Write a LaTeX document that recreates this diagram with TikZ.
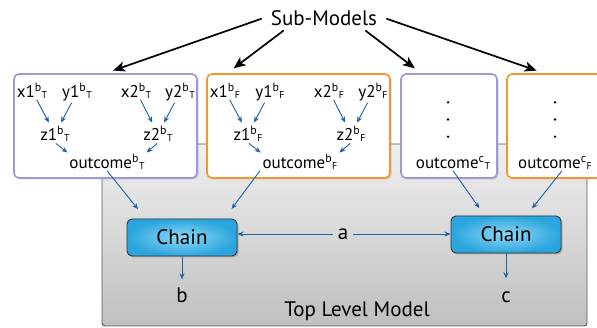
\documentclass[tikz,border=0pt]{standalone}
\usepackage{fontspec}
\setmainfont{PT Sans}
\usetikzlibrary{arrows.meta,shadows,calc}
\definecolor{lav}{HTML}{9A9AD6}
\definecolor{org}{HTML}{F5962A}
\definecolor{arrblue}{HTML}{1C62A6}
\definecolor{chainout}{HTML}{2AA5DE}
\definecolor{chainin}{HTML}{8FD8F6}
\newcommand\bt[2]{\textsuperscript{#1}\raisebox{-0.5pt}{\fontsize{10}{10}\selectfont #2}}
\begin{document}
\begin{tikzpicture}[x=1pt,y=-1pt,
  lbl/.style={font=\fontsize{17}{17}\selectfont, inner sep=1pt, anchor=base},
  big/.style={font=\fontsize{21}{21}\selectfont, inner sep=0pt},
  subbox/.style={draw, line width=1.6pt, fill=white, rounded corners=5pt, inner sep=0pt,
    drop shadow={opacity=0.3,shadow xshift=1.5pt,shadow yshift=-1.5pt}},
  chainbox/.style={draw=black!80, line width=0.9pt, rounded corners=5pt, inner color=chainin,
    outer color=chainout, minimum width=110pt, minimum height=37pt, inner sep=0pt,
    font=\fontsize{21}{21}\selectfont,
    drop shadow={opacity=0.5,shadow xshift=1.5pt,shadow yshift=-1.5pt}},
  barr/.style={arrblue, line width=0.9pt, -{Stealth[length=6pt,width=5pt]}},
  karr/.style={black, line width=1.7pt, -{Stealth[length=12pt,width=10pt,inset=3pt]}}
]
\useasboundingbox (0,0) rectangle (597,328);
% top level container
\node[draw=black!65, line width=0.9pt, rounded corners=3pt, top color=black!6, bottom color=black!25,
  minimum width=485pt, minimum height=182pt, inner sep=0pt] (top) at (344.5,235) {};
\node[big, anchor=base] (toplbl) at (357,317) {Top Level Model};
% sub-model boxes
\node[subbox, draw=lav, minimum width=183pt, minimum height=104pt] (box1) at (105.5,126) {};
\node[subbox, draw=org, minimum width=183pt, minimum height=104pt] (box2) at (298.5,126) {};
\node[subbox, draw=lav, minimum width=96pt, minimum height=104pt] (box3) at (449,126) {};
\node[subbox, draw=org, minimum width=113pt, minimum height=104pt] (box4) at (563.5,126) {};
% inner nodes of b boxes
\foreach \off/\s/\n in {0/T/L, 193/F/R}{
  \node[lbl] (x1\n) at (32+\off,98) {x1\bt{b}{\s}};
  \node[lbl] (y1\n) at (77+\off,98) {y1\bt{b}{\s}};
  \node[lbl] (x2\n) at (136+\off,98) {x2\bt{b}{\s}};
  \node[lbl] (y2\n) at (180+\off,98) {y2\bt{b}{\s}};
  \node[lbl] (z1\n) at (55+\off,141) {z1\bt{b}{\s}};
  \node[lbl] (z2\n) at (158+\off,141) {z2\bt{b}{\s}};
  \node[lbl] (o\n) at (107+\off,169) {outcome\bt{b}{\s}};
  \draw[barr, shorten >=3pt] (x1\n) -- (z1\n);
  \draw[barr, shorten >=3pt] (y1\n) -- (z1\n);
  \draw[barr, shorten >=3pt] (x2\n) -- (z2\n);
  \draw[barr, shorten >=3pt] (y2\n) -- (z2\n);
  \draw[barr, shorten <=1pt, shorten >=1pt] (z1\n.south) -- (o\n.north west);
  \draw[barr, shorten <=1pt, shorten >=1pt] (z2\n.south) -- (o\n.north east);
}
% c boxes
\node[lbl] (oc1) at (453,169) {outcome\bt{c}{T}};
\node[lbl] (oc2) at (555,169) {outcome\bt{c}{F}};
\foreach \yy in {102.3,119.5,136.7}{
  \fill (448,\yy) circle (1.3pt);
  \fill (555,\yy) circle (1.3pt);
}
% Sub-Models
\node[font=\fontsize{21}{21}\selectfont, inner xsep=9pt, inner ysep=4pt, anchor=base] (subm) at (324,26) {Sub-Models};
\draw[karr, shorten >=8pt] (subm.west) -- (box1.north);
\draw[karr, shorten >=8pt] ([xshift=22pt]subm.south west) -- ([xshift=21pt]box2.north west);
\draw[karr, shorten >=8pt] ([xshift=-21pt]subm.south east) -- ([xshift=21pt]box3.north west);
\draw[karr, shorten >=8pt] (subm.east) -- ([xshift=38pt]box4.north west);
% chains
\node[chainbox] (chainL) at (182,237.5) {Chain};
\node[chainbox] (chainR) at (506,234.5) {Chain};
\node[big, inner xsep=5pt] (a) at (343,234) {a};
\draw[barr] (a) -- (a -| chainL.east);
\draw[barr] (a) -- (a -| chainR.west);
\node[big] (b) at (182,295) {b};
\node[big] (c) at (506,297) {c};
\draw[barr, shorten >=8pt] (chainL) -- (b);
\draw[barr, shorten >=13pt] (chainR) -- (c);
% outcome to chain
\draw[barr, shorten >=12pt] (oL.south) -- ([xshift=19pt]chainL.north west);
\draw[barr, shorten >=12pt] ([xshift=-40pt]oR.south) -- ([xshift=-13pt]chainL.north east);
\draw[barr, shorten >=9pt] (oc1.south) -- ([xshift=34pt]chainR.north west);
\draw[barr, shorten >=9pt] ([xshift=7pt]oc2.south) -- ([xshift=-35pt]chainR.north east);
\end{tikzpicture}
\end{document}
